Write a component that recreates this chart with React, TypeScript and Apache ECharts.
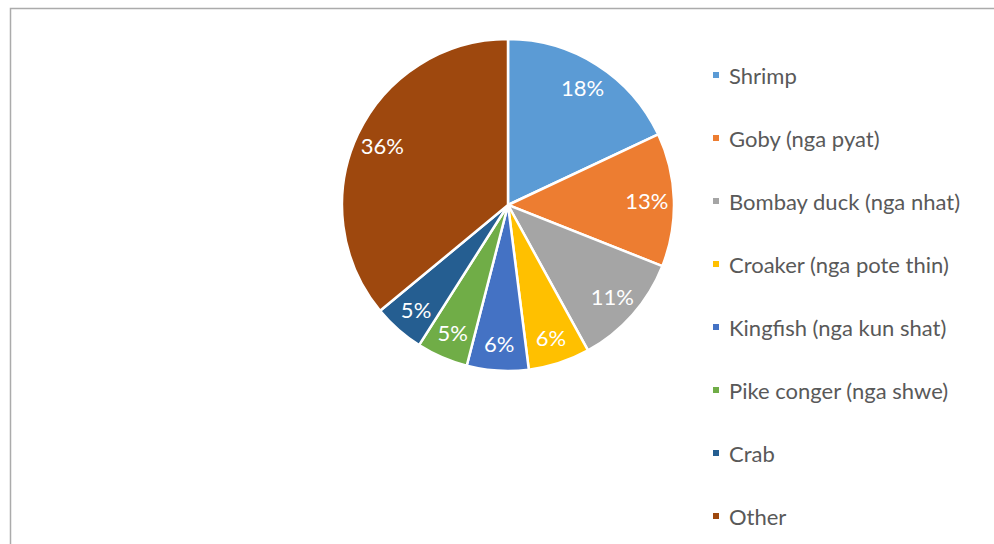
import React, { useEffect, useRef } from "react";
import * as echarts from "echarts";

const categories = [
  "Shrimp",
  "Goby (nga pyat)",
  "Bombay duck (nga nhat)",
  "Croaker (nga pote thin)",
  "Kingfish (nga kun shat)",
  "Pike conger (nga shwe)",
  "Crab",
  "Other",
];
const shares = [18, 13, 11, 6, 6, 5, 5, 36];
const colors = ["#5B9BD5", "#ED7D31", "#A5A5A5", "#FFC000", "#4472C4", "#70AD47", "#255E91", "#9E480E"];

const FONT = "Lato, 'Open Sans', sans-serif";

export default function App() {
  const ref = useRef<HTMLDivElement>(null);
  useEffect(() => {
    if (!ref.current) return;
    const chart = echarts.init(ref.current, undefined, { renderer: "svg" });
    const data = categories.map((name, i) => ({ name, value: shares[i], itemStyle: { color: colors[i] } }));
    chart.setOption({
      animation: false,
      backgroundColor: "#ffffff",
      graphic: [
        {
          type: "rect",
          shape: { x: 10.5, y: 8.5, width: 1100, height: 700 },
          style: { fill: "none", stroke: "#ababab", lineWidth: 1.5 },
          silent: true,
        },
      ],
      legend: {
        orient: "vertical",
        left: 711,
        top: 64,
        height: 520,
        padding: 0,
        itemWidth: 8,
        itemHeight: 8,
        itemGap: 41,
        icon: "rect",
        data: categories,
        selectedMode: false,
        textStyle: { fontFamily: FONT, fontSize: 22, color: "#595959", lineHeight: 20, padding: [0, 0, 0, 4] },
      },
      series: [
        {
          type: "pie",
          center: [508, 205],
          radius: [0, 166],
          startAngle: 90,
          clockwise: true,
          data,
          itemStyle: { borderColor: "#ffffff", borderWidth: 2.5 },
          label: { show: false },
          labelLine: { show: false },
          emphasis: { disabled: true },
        },
        {
          type: "pie",
          center: [508, 205],
          radius: [106, 166],
          startAngle: 90,
          clockwise: true,
          silent: true,
          data: categories.map((name, i) => ({ name, value: shares[i] })),
          itemStyle: { color: "rgba(0,0,0,0)", borderWidth: 0 },
          label: {
            show: true,
            position: "inside",
            formatter: (p: any) => `${shares[p.dataIndex]}%`,
            color: "#ffffff",
            fontFamily: FONT,
            fontSize: 22,
          },
          labelLine: { show: false },
          emphasis: { disabled: true },
        },
      ],
    });
    return () => chart.dispose();
  }, []);
  return (
    <div
      ref={ref}
      style={{ position: "fixed", left: 0, top: 0, width: 994, height: 544 }}
    />
  );
}
